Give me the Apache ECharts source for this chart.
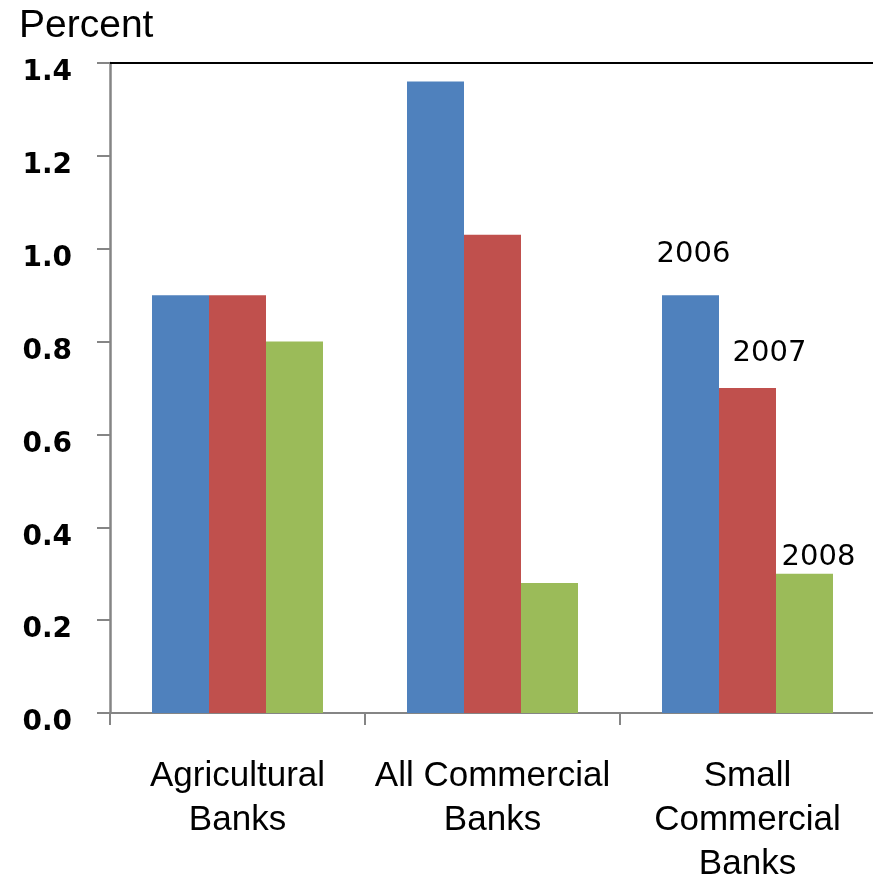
<!DOCTYPE html>
<html>
<head>
<meta charset="utf-8">
<style>
  html, body { margin: 0; padding: 0; background: #fff; }
  #chart { width: 873px; height: 878px; }
</style>
<script src="https://cdn.jsdelivr.net/npm/echarts@6/dist/echarts.min.js"></script>
</head>
<body>
<div id="chart"></div>
<script>
// Bank groups along the category axis
const categories = ['Agricultural\nBanks', 'All Commercial\nBanks', 'Small\nCommercial\nBanks'];
// One series per year, values in percent
const years = ['2006', '2007', '2008'];
const values2006 = [0.90, 1.36, 0.90];
const values2007 = [0.90, 1.03, 0.70];
const values2008 = [0.80, 0.28, 0.30];
// Value-axis range and step
const yMin = 0;
const yMax = 1.4;
const yStep = 0.2;

const colors = ['#4F81BD', '#C0504D', '#9BBB59'];
// Year tags sit beside the last group's bars
const tagOffsets = [[3, -21], [22, -15], [14, 4]];

function makeSeries(name, values, idx) {
  const last = values.length - 1;
  return {
    name: name,
    type: 'bar',
    barWidth: 57,
    barGap: '0%',
    itemStyle: { color: colors[idx] },
    data: values.map((v, i) => i === last ? {
      value: v,
      label: {
        show: true,
        position: 'top',
        offset: tagOffsets[idx],
        formatter: name,
        fontFamily: 'DejaVu Sans',
        fontSize: 29,
        lineHeight: 30,
        color: '#000'
      }
    } : v)
  };
}

const chart = echarts.init(document.getElementById('chart'), null, { renderer: 'canvas' });
chart.setOption({
  animation: false,
  backgroundColor: '#fff',
  grid: {
    left: 110, right: -2, top: 63, bottom: 165,
    containLabel: false,
    outerBoundsMode: 'none'
  },
  graphic: [{
    type: 'text',
    left: 19,
    top: 7,
    style: { text: 'Percent', font: '39px "Liberation Sans"', fill: '#000' }
  }],
  xAxis: [{
    type: 'category',
    data: categories,
    axisLine: { lineStyle: { color: '#858585', width: 2 } },
    axisTick: { show: true, length: 12, lineStyle: { color: '#858585', width: 2 } },
    axisLabel: {
      interval: 0,
      margin: 41,
      fontFamily: 'Liberation Sans',
      fontSize: 35,
      lineHeight: 44,
      color: '#000'
    },
    splitLine: { show: false }
  }, {
    type: 'category',
    data: categories,
    position: 'top',
    axisLine: { show: true, lineStyle: { color: '#000', width: 2 } },
    axisTick: { show: false },
    axisLabel: { show: false }
  }],
  yAxis: {
    type: 'value',
    min: yMin,
    max: yMax,
    interval: yStep,
    axisLine: { show: true, lineStyle: { color: '#858585', width: 2.5 } },
    axisTick: { show: true, length: 13, lineStyle: { color: '#858585', width: 2 } },
    splitLine: { show: false },
    axisLabel: {
      margin: 38,
      formatter: v => v.toFixed(1),
      fontFamily: 'DejaVu Sans',
      fontWeight: 'bold',
      fontSize: 28,
      verticalAlign: 'top',
      lineHeight: 20,
      color: '#000'
    }
  },
  series: [
    makeSeries(years[0], values2006, 0),
    makeSeries(years[1], values2007, 1),
    makeSeries(years[2], values2008, 2)
  ]
});
</script>
</body>
</html>
